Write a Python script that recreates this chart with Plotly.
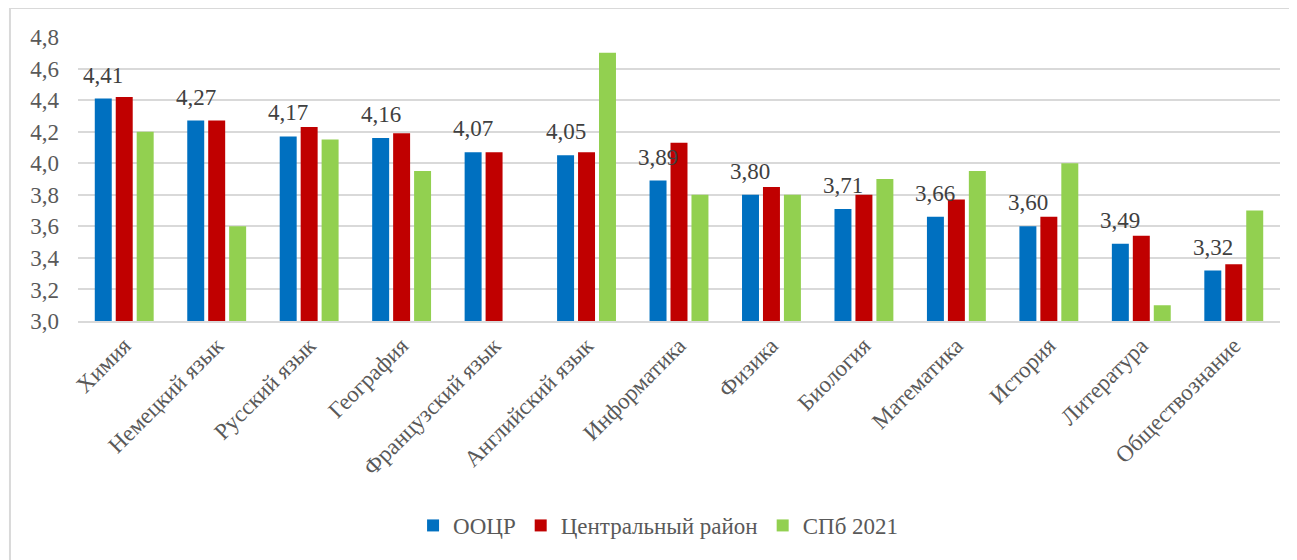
import plotly.graph_objects as go

categories = ["Химия", "Немецкий язык", "Русский язык", "География", "Французский язык",
              "Английский язык", "Информатика", "Физика", "Биология", "Математика",
              "История", "Литература", "Обществознание"]
oocr = [4.41, 4.27, 4.17, 4.16, 4.07, 4.05, 3.89, 3.80, 3.71, 3.66, 3.60, 3.49, 3.32]
central = [4.42, 4.27, 4.23, 4.19, 4.07, 4.07, 4.13, 3.85, 3.80, 3.77, 3.66, 3.54, 3.36]
spb = [4.20, 3.60, 4.15, 3.95, None, 4.70, 3.80, 3.80, 3.90, 3.95, 4.00, 3.10, 3.70]
series_names = ["ООЦР", "Центральный район", "СПб 2021"]
colors = ["#0070C0", "#C00000", "#92D050"]

FONT = "Liberation Serif"

fig = go.Figure()
for name, vals, col in zip(series_names, [oocr, central, spb], colors):
    fig.add_trace(go.Bar(x=categories, y=vals, name=name, marker=dict(color=col, line=dict(width=0))))

for cat, v in zip(categories, oocr):
    fig.add_annotation(x=cat, y=v, text=f"{v:.2f}".replace(".", ","), showarrow=False,
                       xshift=-21, yshift=9, yanchor="bottom",
                       font=dict(family=FONT, size=23, color="#404040"))

# chart frame (top and left edges visible)
fig.add_shape(type="line", xref="paper", yref="paper", x0=-0.0566, x1=1.2, y0=1.102, y1=1.102,
              line=dict(color="#d9d9d9", width=2))
fig.add_shape(type="line", xref="paper", yref="paper", x0=-0.0566, x1=-0.0566, y0=1.102, y1=-1.0,
              line=dict(color="#d9d9d9", width=2))

fig.update_layout(
    width=1297, height=560,
    margin=dict(l=70, r=25, t=29, b=247),
    paper_bgcolor="white", plot_bgcolor="white",
    separators=", ",
    barmode="group", bargap=0.32, bargroupgap=0.19,
    font=dict(family=FONT, size=23, color="#595959"),
    showlegend=True,
    legend=dict(orientation="h", x=0.483, xanchor="center", y=-0.72, yanchor="middle",
                font=dict(family=FONT, size=23, color="#595959"), itemwidth=30,
                traceorder="normal"),
    xaxis=dict(tickangle=-45, showgrid=False, showline=True, linecolor="#d9d9d9", linewidth=2,
               ticks="", tickfont=dict(family=FONT, size=23, color="#595959")),
    yaxis=dict(range=[3.0, 4.8], dtick=0.2, tick0=3.0, tickformat=".1f", showgrid=True,
               gridcolor="#d9d9d9", gridwidth=2, zeroline=False, showline=False, ticks="",
               tickfont=dict(family=FONT, size=23, color="#595959"), ticklabelstandoff=18),
)

fig.write_html("out.html")
